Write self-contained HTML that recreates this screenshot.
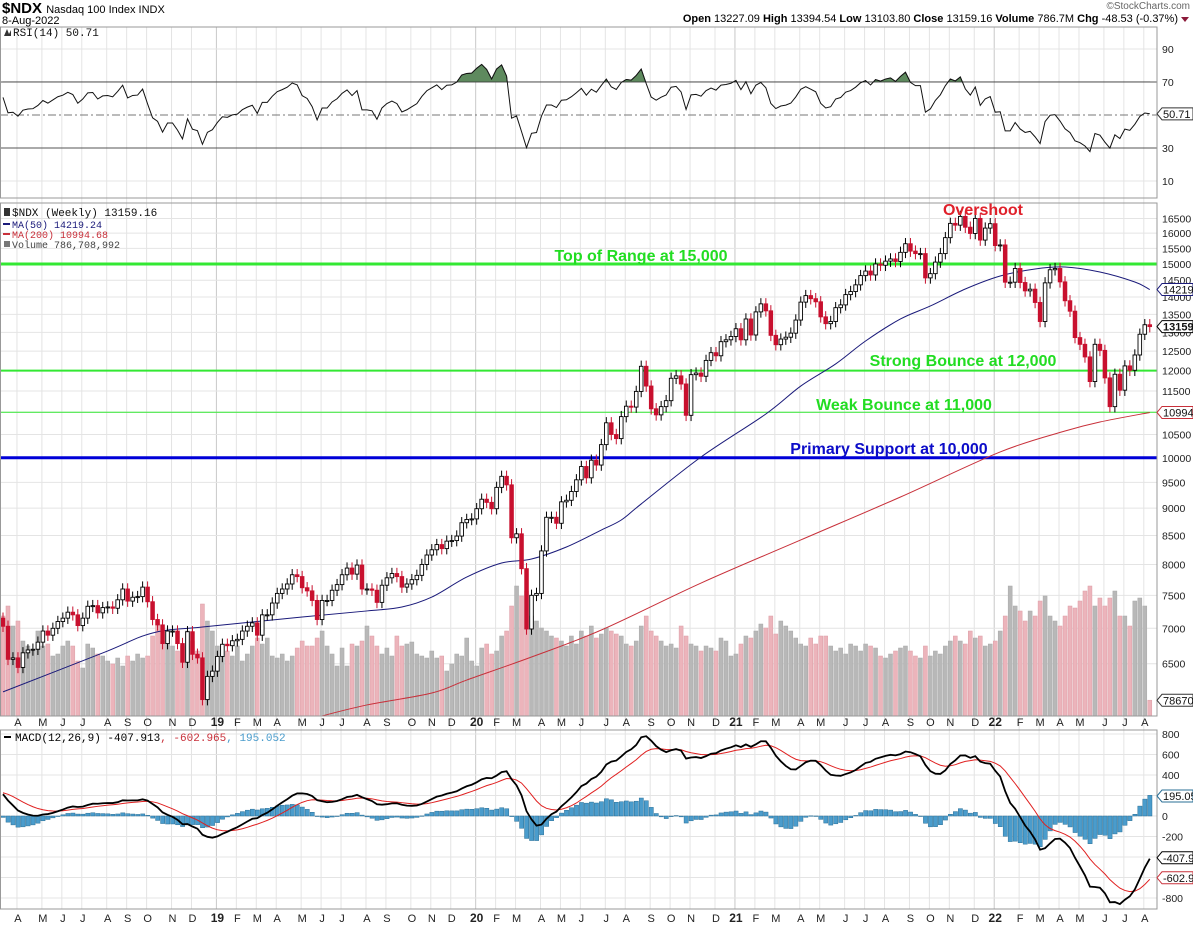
<!DOCTYPE html>
<html><head><meta charset="utf-8"><title>$NDX Weekly</title>
<style>
html,body{margin:0;padding:0;background:#fff;}
svg{display:block;font-family:"Liberation Sans",sans-serif;}
.mono{font-family:"Liberation Mono",monospace;}
</style></head>
<body>
<svg id="chart" width="1193" height="928" viewBox="0 0 1193 928" xmlns="http://www.w3.org/2000/svg">
  <rect x="0" y="0" width="1193" height="928" fill="#fff"/>
  <text x="2" y="13" font-size="15" font-weight="bold">$NDX <tspan font-size="11" font-weight="normal">Nasdaq 100 Index INDX</tspan></text>
  <text x="2" y="24" font-size="11">8-Aug-2022</text>
  <text x="1190" y="9" font-size="10" fill="#666" text-anchor="end">©StockCharts.com</text>
  <text x="1178" y="22" font-size="11" text-anchor="end"><tspan font-weight="bold">Open</tspan> 13227.09 <tspan font-weight="bold">High</tspan> 13394.54 <tspan font-weight="bold">Low</tspan> 13103.80 <tspan font-weight="bold">Close</tspan> 13159.16 <tspan font-weight="bold">Volume</tspan> 786.7M <tspan font-weight="bold">Chg</tspan> -48.53 (-0.37%)</text>
  <path d="M1181,17 L1189,17 L1185,22 Z" fill="#8b1a3a"/>
  <g id="grid"></g>
  <g id="rsi"></g>
  <g id="price"></g>
  <g id="macd"></g>
  <g id="axes"></g>
</svg>
<script>
// ---- data (weekly, starting week of 12-Mar-2018) ----
const closes = [7030,6560,6580,6450,6650,6690,6700,6800,6960,6900,7000,7100,7150,7240,7200,7040,7150,7330,7340,7230,
7310,7320,7300,7430,7600,7410,7470,7480,7630,7400,7130,7050,6780,6960,6960,6780,6520,6950,6630,6580,
6030,6330,6400,6600,6770,6750,6820,6840,6960,7030,7080,6900,7200,7200,7380,7530,7600,7680,7830,7800,
7620,7570,7420,7130,7420,7420,7580,7670,7830,7940,7840,7990,7600,7600,7580,7390,7660,7780,7850,7800,
7630,7680,7750,7820,8000,8160,8250,8340,8270,8400,8410,8490,8730,8790,8800,8990,9170,9110,8990,9400,
9620,9450,8460,8530,7930,6990,7500,7530,8230,8830,8830,8720,9120,9150,9320,9550,9820,9590,9950,9850,
10280,10760,10500,10410,10900,11140,11120,11490,12110,11620,11080,10940,11130,11270,11810,11870,11670,10930,11900,11940,
11860,12260,12460,12380,12750,12800,12890,13100,12800,13370,12930,13570,13800,13600,12920,12670,12820,12870,12980,13340,
13850,14040,13950,13860,13430,13240,13300,13690,13770,14070,14160,14360,14640,14780,14660,15000,14960,15090,15160,15080,
15370,15650,15410,15330,15330,14570,14700,15060,15330,15850,16330,16270,16570,16200,15990,16500,15770,16170,16320,15590,
15610,14440,14440,14860,14430,14180,14230,13840,13300,14420,14820,14860,14450,13890,13590,12860,12680,12350,11730,12680,
12520,11820,11130,11910,11520,12120,12010,12400,12950,13210,13159];
const firstOpen = 7150;
// volume in units of 10M shares
const volumes = [500,550,450,475,375,350,325,425,350,360,300,310,350,375,350,275,240,360,340,310,
300,275,260,290,250,300,275,310,290,300,400,475,375,425,350,325,350,425,375,325,
560,475,425,350,350,325,300,350,275,310,350,390,360,390,300,290,310,275,300,340,
375,350,350,390,425,350,310,250,340,250,360,350,375,450,400,350,310,340,300,400,
350,360,370,310,300,290,325,290,300,225,260,310,300,390,275,250,340,360,310,325,
400,425,550,650,600,625,500,475,440,425,400,390,375,350,400,360,425,400,450,390,
410,440,425,410,400,360,350,375,450,500,425,400,375,350,360,340,450,400,360,350,
325,350,340,325,390,375,300,310,360,400,390,425,460,440,500,410,475,450,425,390,
360,350,390,360,400,400,350,325,340,310,360,350,325,360,350,340,300,290,310,325,
340,350,325,300,290,350,300,325,310,350,375,400,375,360,425,390,400,350,360,375,
425,500,650,550,525,475,525,500,575,600,500,475,450,500,550,540,575,625,650,550,
590,550,590,625,500,500,450,575,590,550,79];
// moving averages: [week index, value]
const ma50Idx = [0,20,30,40,60,73,80,86,93,100,106,113,120,124,128,140,153,160,167,173,180,186,193,200,207,213,220,227,230];
const ma50Val = [6128,6648,6932,7019,7167,7259,7319,7473,7792,8025,8092,8298,8598,8780,9080,10017,10960,11620,12170,12768,13370,13739,14235,14628,14844,14906,14750,14445,14219];
const ma200Idx = [64,73,86,93,106,120,140,160,180,200,213,220,230];
const ma200Val = [5828,5963,6114,6282,6592,6975,7695,8421,9213,10124,10577,10778,10995];
// indicator seeds (state before first week)
const rsiSeedGain = 130, rsiSeedLoss = 75;
const ema12Seed = 7150, ema26Seed = 6910, signalSeed = 230;
const priceTicks = [6500,7000,7500,8000,8500,9000,9500,10000,10500,11000,11500,12000,12500,13000,13500,14000,14500,15000,15500,16000,16500];
const rsiTicks = [10,30,50,70,90];
const macdTicks = [800,600,400,200,0,-200,-400,-600,-800];
const monthLetters = ["J","F","M","A","M","J","J","A","S","O","N","D"];
const levels = [15000,12000,11000,10000];
const levelLabels = ["Top of Range at 15,000","Strong Bounce at 12,000","Weak Bounce at 11,000","Primary Support at 10,000"];

// ---- scales ----
const NS = "http://www.w3.org/2000/svg";
const L = 0, R = 1157;
const RSI_T = 27, RSI_B = 198, P_T = 203, P_B = 716, M_T = 730, M_B = 909;
const xW = i => 3 + i * 4.986;
const yP = v => 264 + (Math.log(15000) - Math.log(v)) * 478;
const yR = v => 115 - (v - 50) * 1.65;
const yM = v => 816 - v * 0.1025;
const yV = v => P_B - v / 650 * 130;
function mk(tag, attrs, parent) {
  const e = document.createElementNS(NS, tag);
  for (const k in attrs) e.setAttribute(k, attrs[k]);
  parent.appendChild(e);
  return e;
}
function smoothPath(pts) {
  let d = 'M' + pts[0][0] + ',' + pts[0][1];
  for (let k = 0; k < pts.length - 1; k++) {
    const p0 = pts[Math.max(k - 1, 0)], p1 = pts[k], p2 = pts[k + 1], p3 = pts[Math.min(k + 2, pts.length - 1)];
    const c1x = p1[0] + (p2[0] - p0[0]) / 6, c1y = p1[1] + (p2[1] - p0[1]) / 6;
    const c2x = p2[0] - (p3[0] - p1[0]) / 6, c2y = p2[1] - (p3[1] - p1[1]) / 6;
    d += ' C' + c1x + ',' + c1y + ' ' + c2x + ',' + c2y + ' ' + p2[0] + ',' + p2[1];
  }
  return d;
}
const grid = document.getElementById('grid');
const gR = document.getElementById('rsi');
const gP = document.getElementById('price');
const gM = document.getElementById('macd');
const gA = document.getElementById('axes');

const defs = mk('defs', {}, document.getElementById('chart'));
[['clipR', RSI_T, RSI_B], ['clipP', P_T, P_B], ['clipM', M_T, M_B]].forEach(c => {
  const cp = mk('clipPath', {id: c[0]}, defs);
  mk('rect', {x: L, y: c[1], width: R - L, height: c[2] - c[1]}, cp);
});
gR.setAttribute('clip-path', 'url(#clipR)');
gP.setAttribute('clip-path', 'url(#clipP)');
gM.setAttribute('clip-path', 'url(#clipM)');

// ---- month grid & labels ----
const start = new Date(Date.UTC(2018, 2, 12));
let prevM = 2;
for (let i = 0; i < closes.length; i++) {
  const d = new Date(start.getTime() + i * 7 * 86400000);
  const m = d.getUTCMonth();
  if (m !== prevM) {
    const x = xW(i) - 1;
    const isYear = m === 0;
    const vl = mk('line', {x1: x, x2: x, y1: RSI_T, y2: M_B, stroke: isYear ? '#c8c8c8' : '#e4e4e4', 'stroke-width': 1}, grid);
    
    
    const txt = isYear ? String(d.getUTCFullYear() % 100) : monthLetters[m];
    [726, 922].forEach(yy => {
      const t = mk('text', {x: x + 1, y: yy, 'font-size': isYear ? 12 : 11, 'font-weight': isYear ? 'bold' : 'normal', 'text-anchor': 'middle', fill: '#222'}, gA);
      t.textContent = txt;
      
      
    });
  }
  prevM = m;
}

priceTicks.forEach(v => {
  const l = mk('line', {x1: L, x2: R, y1: yP(v), y2: yP(v), stroke: '#e4e4e4'}, grid);
  
  
  const t = mk('text', {x: 1162, y: yP(v) + 4, 'font-size': 10.5, fill: '#222'}, gA);
  t.textContent = v;
  
  
});
macdTicks.forEach(v => {
  const l = mk('line', {x1: L, x2: R, y1: yM(v), y2: yM(v), stroke: '#e4e4e4'}, grid);
  
  
  const t = mk('text', {x: 1162, y: yM(v) + 4, 'font-size': 10.5, fill: '#222'}, gA);
  t.textContent = v;
  
  
});
rsiTicks.forEach(v => {
  const ref = (v === 30 || v === 70);
  const l = mk('line', {x1: L, x2: R, y1: yR(v), y2: yR(v), stroke: ref ? '#555' : (v === 50 ? '#777' : '#e4e4e4'), 'stroke-dasharray': v === 50 ? '8,3,2,3' : 'none'}, grid);
  
  
  const t = mk('text', {x: 1162, y: yR(v) + 4, 'font-size': 10.5, fill: '#222'}, gA);
  t.textContent = v;
  
  
});

// ---- RSI ----
const rsi = [];
{
  let ag = rsiSeedGain, al = rsiSeedLoss, prev = firstOpen;
  closes.forEach(c => {
    const ch = c - prev; prev = c;
    ag = (ag * 13 + Math.max(ch, 0)) / 14;
    al = (al * 13 + Math.max(-ch, 0)) / 14;
    rsi.push(100 - 100 / (1 + ag / al));
  });
}
const rsiPts = rsi.map((v, i) => xW(i) + ',' + yR(v));
const cpo = mk('clipPath', {id: 'clipOB'}, defs);
mk('rect', {x: 0, y: RSI_T, width: R, height: yR(70) - RSI_T}, cpo);
const obFill = mk('polygon', {points: xW(0) + ',' + yR(70) + ' ' + rsiPts.join(' ') + ' ' + xW(rsi.length - 1) + ',' + yR(70), fill: '#5e8a5e', stroke: '#333', 'stroke-width': 0.8, 'clip-path': 'url(#clipOB)'}, gR);


const rsiLine = mk('polyline', {points: rsiPts.join(' '), fill: 'none', stroke: '#111', 'stroke-width': 1}, gR);



// ---- Volume ----
closes.forEach((c, i) => {
  const prev = i === 0 ? firstOpen : closes[i - 1];
  const down = c < prev;
  const y = yV(volumes[i]);
  const b = mk('rect', {x: xW(i) - 2, y: y, width: 4, height: P_B - y, fill: down ? '#ecb4bb' : '#b8b8b8', stroke: down ? '#dc9ea6' : '#a8a8a8', 'stroke-width': 0.5}, gP);
  
  
});

// ---- level lines ----
const lvlStyle = [['#33e833', 3], ['#33e833', 2], ['#33e833', 1], ['#0000d8', 3]];
levels.forEach((v, k) => {
  const l = mk('line', {x1: L, x2: R, y1: yP(v), y2: yP(v), stroke: lvlStyle[k][0], 'stroke-width': lvlStyle[k][1]}, gP);
  
  
});

// ---- MAs ----
const ma50Line = mk('path', {d: smoothPath(ma50Idx.map((w, k) => [xW(w), yP(ma50Val[k])])), fill: 'none', stroke: '#1a1a7a', 'stroke-width': 1}, gP);


const ma200Line = mk('path', {d: smoothPath(ma200Idx.map((w, k) => [xW(w), yP(ma200Val[k])])), fill: 'none', stroke: '#c8303a', 'stroke-width': 1}, gP);



// ---- candles ----
closes.forEach((c, i) => {
  const o = i === 0 ? firstOpen : closes[i - 1];
  const up = c >= o;
  const col = up ? '#000' : '#c8102e';
  const hi = Math.max(o, c) * 1.012, lo = Math.min(o, c) * 0.988;
  const x = xW(i);
  const w = mk('line', {x1: x, x2: x, y1: yP(hi), y2: yP(lo), stroke: col, 'stroke-width': 1}, gP);
  
  
  const yt = yP(Math.max(o, c)), yb = yP(Math.min(o, c));
  const body = mk('rect', {x: x - 1.8, y: yt, width: 3.6, height: Math.max(yb - yt, 1), fill: up ? '#fff' : col, stroke: col, 'stroke-width': 0.9}, gP);
  
  
});

const ann = [
  ['Overshoot', 983, 215, '#e0202a'],
  [levelLabels[0], 641, 261, '#22dd22'],
  [levelLabels[1], 963, 366, '#22dd22'],
  [levelLabels[2], 904, 410, '#22dd22'],
  [levelLabels[3], 889, 454, '#0c0cc8']
];
ann.forEach(a => {
  const t = mk('text', {x: a[1], y: a[2], 'font-size': 16, 'font-weight': 'bold', fill: a[3], 'text-anchor': 'middle'}, gP);
  t.textContent = a[0];
  
  
});

// ---- MACD ----
const macd = [], sig = [], hist = [];
{
  let e12 = ema12Seed, e26 = ema26Seed, s = signalSeed;
  closes.forEach(c => {
    e12 += (c - e12) * 2 / 13;
    e26 += (c - e26) * 2 / 27;
    const m = e12 - e26;
    s += (m - s) * 0.2;
    macd.push(m); sig.push(s); hist.push(m - s);
  });
}
hist.forEach((h, i) => {
  const y0 = yM(0), y1 = yM(h);
  const b = mk('rect', {x: xW(i) - 2, y: Math.min(y0, y1), width: 4.2, height: Math.max(Math.abs(y1 - y0), 0.5), fill: '#4a9ccc', stroke: '#2a6f96', 'stroke-width': 0.5}, gM);
  
  
});
const sigLine = mk('polyline', {points: sig.map((v, i) => xW(i) + ',' + yM(v)).join(' '), fill: 'none', stroke: '#e02020', 'stroke-width': 1}, gM);


const macdLine = mk('polyline', {points: macd.map((v, i) => xW(i) + ',' + yM(v)).join(' '), fill: 'none', stroke: '#000', 'stroke-width': 1.8}, gM);



[[RSI_T, RSI_B], [P_T, P_B], [M_T, M_B]].forEach(p => {
  const r = mk('rect', {x: 0.5, y: p[0], width: R - 0.5, height: p[1] - p[0], fill: 'none', stroke: '#999'}, gA);
  
  
});

function legend(x, y, txt, col, name) {
  const t = mk('text', {x: x, y: y, 'font-size': 11, fill: col, class: 'mono'}, gA);
  t.textContent = txt;
  
  
  return t;
}
const rsiIco = mk('path', {d: 'M4,36 L7,29 L9,34 L11,30 L11,36 Z', fill: '#333'}, gA);


legend(13, 36, 'RSI(14) 50.71', '#111', 'rsi-legend');
legend(12, 216, '$NDX (Weekly) 13159.16', '#111', 'price-legend');
const pi = mk('rect', {x: 4, y: 208, width: 6, height: 8, fill: '#333'}, gA);


const m50i = mk('line', {x1: 3, x2: 10, y1: 224, y2: 224, stroke: '#1a1a7a', 'stroke-width': 2}, gA);


legend(12, 228, 'MA(50) 14219.24', '#1a1a7a', 'ma50-legend').setAttribute('font-size', 10);
const m200i = mk('line', {x1: 3, x2: 10, y1: 234, y2: 234, stroke: '#c8303a', 'stroke-width': 2}, gA);


legend(12, 238, 'MA(200) 10994.68', '#c8303a', 'ma200-legend').setAttribute('font-size', 10);
const vi = mk('rect', {x: 4, y: 241, width: 6, height: 6, fill: '#777'}, gA);


legend(12, 248, 'Volume 786,708,992', '#444', 'volume-legend').setAttribute('font-size', 10);
const mi = mk('line', {x1: 4, x2: 11, y1: 737, y2: 737, stroke: '#000', 'stroke-width': 2}, gA);


const ml = mk('text', {x: 15, y: 741, 'font-size': 11, class: 'mono'}, gA);
ml.innerHTML = 'MACD(12,26,9) -407.913<tspan fill="#c8303a">, -602.965</tspan><tspan fill="#4a9ccc">, 195.052</tspan>';



function tag(y, txt, col, bold, name) {
  const g = mk('g', {}, gA);
  
  
  mk('path', {d: `M1157,${y} L1162,${y - 6} L1193,${y - 6} L1193,${y + 6} L1162,${y + 6} Z`, fill: '#fff', stroke: col, 'stroke-width': 1}, g);
  const t = mk('text', {x: 1163, y: y + 4, 'font-size': 11, 'font-weight': bold ? 'bold' : 'normal', fill: '#111'}, g);
  t.textContent = txt;
}
tag(yR(50.71), '50.71', '#333', false, 'rsi-value-tag');
tag(yP(14219), '14219', '#1a1a7a', false, 'ma50-value-tag');
tag(yP(13159), '13159.', '#000', true, 'close-value-tag');
tag(yP(10995), '10994', '#c8303a', false, 'ma200-value-tag');
tag(yV(78.67), '786705', '#333', false, 'volume-value-tag');
tag(yM(195.05), '195.05', '#2a6f96', false, 'histogram-value-tag');
tag(yM(-407.9), '-407.9', '#000', false, 'macd-value-tag');
tag(yM(-602.96), '-602.96', '#c8303a', false, 'signal-value-tag');
</script>
</body></html>
